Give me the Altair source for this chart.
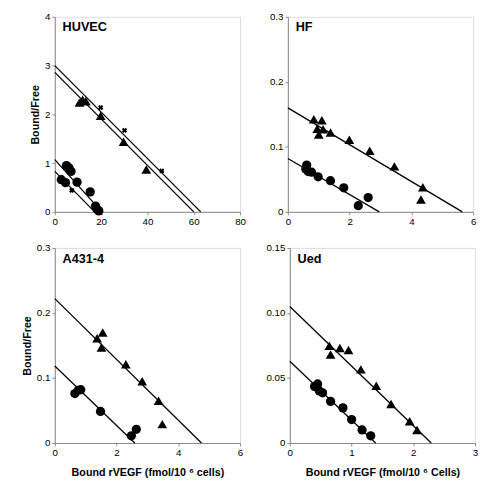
import altair as alt
import pandas as pd

FONT = "Liberation Sans"

# ---------------- HUVEC ----------------
huvec_tri_x = [10.6, 12.0, 13.4, 19.8, 29.7, 39.5]
huvec_tri_y = [2.24, 2.30, 2.27, 1.97, 1.44, 0.87]
huvec_circ_x = [5.0, 6.2, 7.0, 2.8, 4.6, 9.6, 15.3, 17.6, 18.3, 19.0]
huvec_circ_y = [0.95, 0.90, 0.83, 0.66, 0.60, 0.61, 0.41, 0.12, 0.05, 0.02]
huvec_cross_x = [11.5, 19.8, 30.1, 46.2, 7.3]
huvec_cross_y = [2.25, 2.14, 1.67, 0.84, 0.44]
huvec_lines = [(0, 3.0, 63, 0), (0, 2.86, 60, 0), (0, 1.07, 20.3, 0), (0, 0.83, 17.2, 0)]

# ---------------- HF ----------------
hf_tri_x = [0.84, 1.10, 1.0, 0.95, 1.14, 1.38, 1.99, 2.65, 3.45, 4.37, 4.31]
hf_tri_y = [0.1425, 0.141, 0.119, 0.128, 0.127, 0.122, 0.111, 0.094, 0.070, 0.038, 0.019]
hf_circ_x = [0.61, 0.58, 0.66, 0.77, 0.98, 1.38, 1.81, 2.28, 2.60]
hf_circ_y = [0.072, 0.066, 0.062, 0.061, 0.054, 0.048, 0.037, 0.0095, 0.022]
hf_lines = [(0, 0.160, 5.65, 0), (0, 0.082, 2.96, 0)]

# ---------------- A431-4 ----------------
a431_tri_x = [1.37, 1.55, 1.51, 2.30, 2.83, 3.36, 3.48]
a431_tri_y = [0.161, 0.170, 0.147, 0.121, 0.095, 0.065, 0.029]
a431_circ_x = [0.65, 0.76, 0.84, 1.48, 2.48, 2.64]
a431_circ_y = [0.076, 0.081, 0.082, 0.0485, 0.011, 0.021]
a431_lines = [(0, 0.222, 4.75, 0), (0, 0.1185, 2.59, 0)]

# ---------------- Ued ----------------
ued_tri_x = [0.64, 0.66, 0.81, 0.95, 1.15, 1.40, 1.64, 1.94, 2.06]
ued_tri_y = [0.0748, 0.068, 0.073, 0.0715, 0.0566, 0.044, 0.030, 0.0167, 0.010]
ued_circ_x = [0.40, 0.45, 0.48, 0.53, 0.66, 0.86, 1.00, 1.17, 1.31]
ued_circ_y = [0.0434, 0.0454, 0.040, 0.0386, 0.032, 0.027, 0.018, 0.010, 0.0055]
ued_lines = [(0, 0.105, 2.29, 0), (0, 0.0628, 1.39, 0)]

W, H = 190, 200


def panel(name, tri, circ, cross, lines, xmax, xticks, xmajor, ymax, yticks, ymajor,
          yfmt, ytitle, xtitle):
    xsc = alt.Scale(domain=[0, xmax], nice=False, zero=True)
    ysc = alt.Scale(domain=[0, ymax], nice=False, zero=True)
    xexpr = f"abs(datum.value/{xmajor} - round(datum.value/{xmajor})) < 0.001 ? format(datum.value, '') : ''"
    if yfmt:
        yexpr = (f"abs(datum.value/{ymajor} - round(datum.value/{ymajor})) < 0.001 ? "
                 f"(datum.value == 0 ? '0' : format(datum.value, '{yfmt}')) : ''")
    else:
        yexpr = f"abs(datum.value/{ymajor} - round(datum.value/{ymajor})) < 0.001 ? format(datum.value, '') : ''"
    xaxis = alt.Axis(values=xticks, labelExpr=xexpr, title=xtitle if xtitle else None,
                     grid=False, tickSize=3, labelFlush=False, labelOverlap=False,
                     titlePadding=9)
    yaxis = alt.Axis(values=yticks, labelExpr=yexpr, title=ytitle if ytitle else None,
                     grid=False, tickSize=3, labelFlush=False, labelOverlap=False)

    ldf = pd.DataFrame(lines, columns=["x", "y", "x2", "y2"])
    rules = alt.Chart(ldf).mark_rule(color="black", strokeWidth=1.3).encode(
        x=alt.X("x:Q", scale=xsc, axis=xaxis),
        y=alt.Y("y:Q", scale=ysc, axis=yaxis),
        x2="x2:Q", y2="y2:Q")
    layers = [rules]
    tdf = pd.DataFrame({"x": tri[0], "y": tri[1]})
    layers.append(alt.Chart(tdf).mark_point(shape="triangle-up", filled=True, color="black",
                                            opacity=1, size=100).encode(
        x=alt.X("x:Q", scale=xsc), y=alt.Y("y:Q", scale=ysc)))
    cdf = pd.DataFrame({"x": circ[0], "y": circ[1]})
    layers.append(alt.Chart(cdf).mark_point(shape="circle", filled=True, color="black",
                                            opacity=1, size=90).encode(
        x=alt.X("x:Q", scale=xsc), y=alt.Y("y:Q", scale=ysc)))
    if cross is not None:
        xdf = pd.DataFrame({"x": cross[0], "y": cross[1]})
        layers.append(alt.Chart(xdf).mark_point(shape="cross", angle=45, filled=True,
                                                color="black", opacity=1, size=30).encode(
            x=alt.X("x:Q", scale=xsc), y=alt.Y("y:Q", scale=ysc)))
    label = alt.Chart(pd.DataFrame({"t": [name]})).mark_text(
        align="left", baseline="top", font=FONT, fontWeight="bold", fontSize=13,
        color="black").encode(text="t:N", x=alt.value(8), y=alt.value(5))
    layers.append(label)
    return alt.layer(*layers).properties(width=W, height=H)


def steps(step, n, nd):
    return [round(i * step, nd) for i in range(n)]


p1 = panel("HUVEC", (huvec_tri_x, huvec_tri_y), (huvec_circ_x, huvec_circ_y),
           (huvec_cross_x, huvec_cross_y), huvec_lines,
           80, steps(10, 9, 0), 20, 4, steps(0.5, 9, 2), 1, None,
           "Bound/Free", None)
p2 = panel("HF", (hf_tri_x, hf_tri_y), (hf_circ_x, hf_circ_y), None, hf_lines,
           6, steps(1, 7, 0), 2, 0.3, steps(0.05, 7, 3), 0.1, ".1f",
           None, None)
p3 = panel("A431-4", (a431_tri_x, a431_tri_y), (a431_circ_x, a431_circ_y), None, a431_lines,
           6, steps(1, 7, 0), 2, 0.3, steps(0.05, 7, 3), 0.1, ".1f",
           "Bound/Free", "Bound rVEGF (fmol/10 \u2076 cells)")
p4 = panel("Ued", (ued_tri_x, ued_tri_y), (ued_circ_x, ued_circ_y), None, ued_lines,
           3, steps(0.5, 7, 2), 1, 0.15, steps(0.025, 7, 4), 0.05, ".2f",
           None, "Bound rVEGF (fmol/10 \u2076 Cells)")

chart = alt.vconcat(
    alt.hconcat(p1, p2, spacing=22),
    alt.hconcat(p3, p4, spacing=22),
    spacing=15,
).configure_view(stroke="black", strokeWidth=1.3).configure_axis(
    labelFont=FONT, titleFont=FONT, labelFontWeight="bold", titleFontWeight="bold",
    labelFontSize=10, titleFontSize=14, labelColor="black", titleColor="black",
    domainColor="black", tickColor="black", domainWidth=1.3, tickWidth=1,
    titlePadding=6,
).configure(background="white", padding={"left": 13, "top": -3, "right": 0, "bottom": 0})

chart.save("out.html", embed_options={"renderer": "svg", "actions": False})
